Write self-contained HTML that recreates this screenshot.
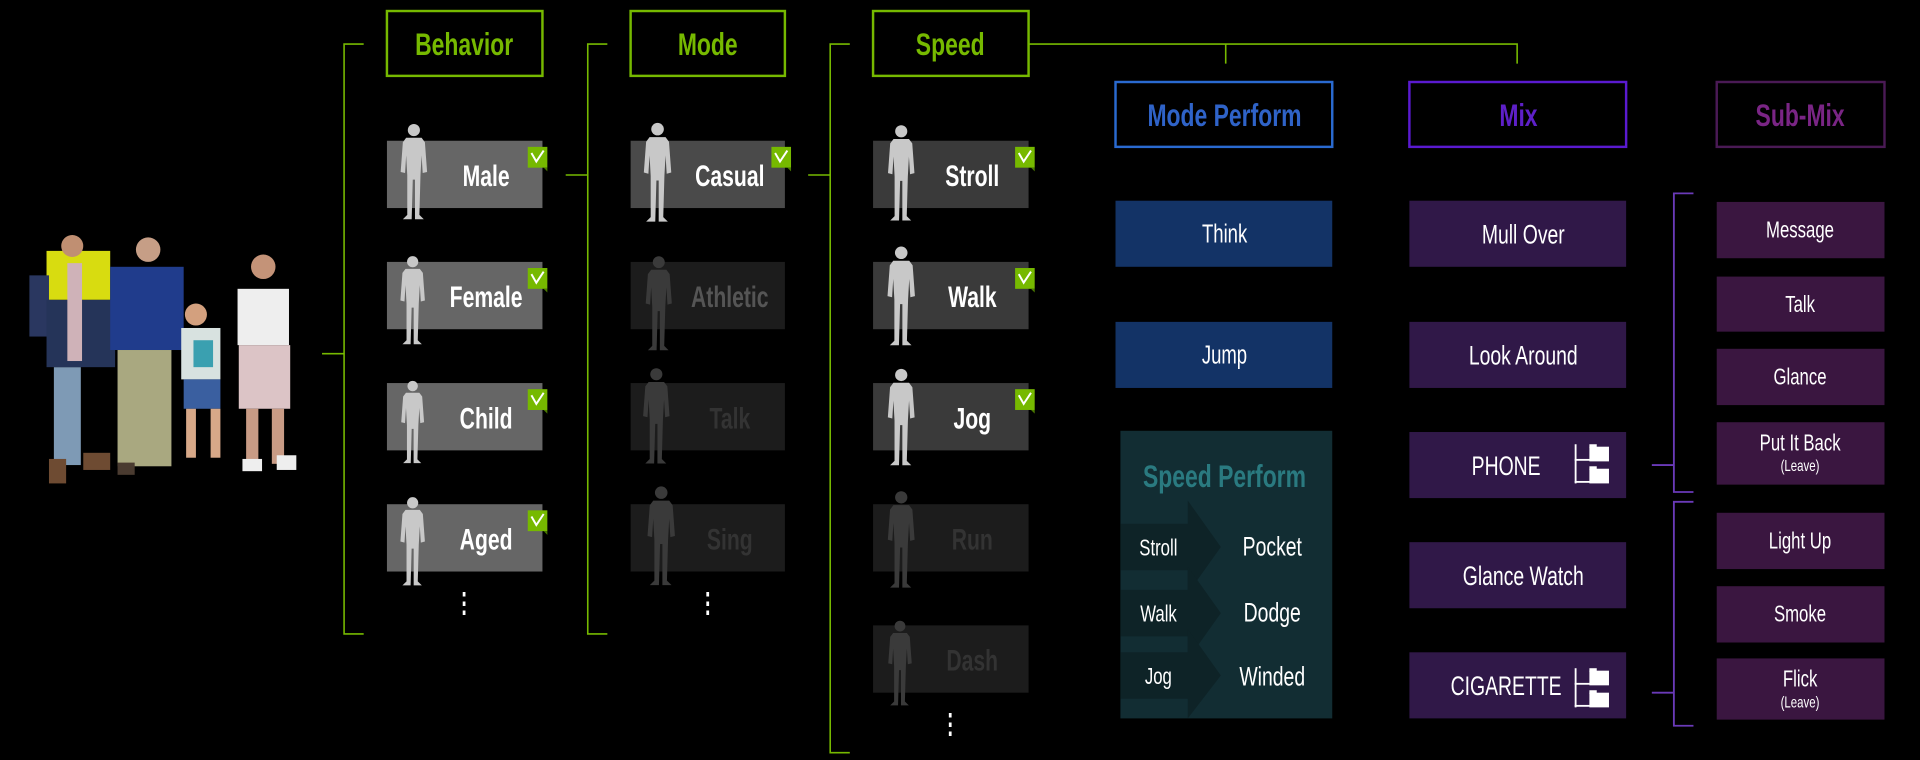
<!DOCTYPE html>
<html><head><meta charset="utf-8"><style>
html,body{margin:0;padding:0;background:#000;width:1920px;height:760px;overflow:hidden}
svg{display:block}
text{font-family:"Liberation Sans Narrow","Liberation Sans",sans-serif;transform-box:fill-box;transform-origin:center;transform:scaleX(0.72)}
</style></head><body>
<svg width="1920" height="760" viewBox="0 0 1568 621" preserveAspectRatio="none" xmlns="http://www.w3.org/2000/svg">
<defs>
<symbol id="fig" viewBox="0 0 40 90" overflow="visible">
<circle cx="20" cy="7" r="5.5"/>
<path d="M13 14 L27 14 L30 18 L32 45 L28 46 L27 30 L26 48 L25 84 L29 88 L21 88 L21 52 L19 52 L18 88 L10 88 L14 84 L14 48 L13 30 L12 46 L8 45 L10 18 Z"/>
</symbol>
<g id="chk"><rect x="0" y="0" width="16" height="17" fill="#76b900"/><path d="M3 5 L7 12 L13 3" fill="none" stroke="#fff" stroke-width="1.6"/><path d="M16 17 L16 20 L13 17Z" fill="#4a7a00"/></g>
<g id="ico" fill="#fff"><rect x="0" y="0" width="1.5" height="32"/><rect x="0" y="12" width="13" height="1.5"/><rect x="0" y="30" width="13" height="1.5"/><rect x="12" y="2" width="16" height="12"/><rect x="12" y="20" width="16" height="12"/><rect x="12" y="0" width="6" height="3"/><rect x="12" y="18" width="6" height="3"/></g>
</defs>

<g>
<rect x="44" y="300" width="22" height="80" fill="#7e9ab5"/>
<rect x="38" y="205" width="52" height="40" fill="#d8dc10"/>
<rect x="24" y="225" width="16" height="50" fill="#2a3760"/>
<rect x="38" y="245" width="56" height="55" fill="#253459"/>
<rect x="55" y="215" width="12" height="80" fill="#cfb2b8"/>
<circle cx="59" cy="201" r="9" fill="#c08f72"/>
<rect x="40" y="375" width="14" height="20" fill="#6e4b32"/>
<rect x="68" y="370" width="22" height="14" fill="#6e4b32"/>
<rect x="90" y="218" width="60" height="68" fill="#203c8c"/>
<rect x="96" y="286" width="44" height="95" fill="#a9a880"/>
<circle cx="121" cy="204" r="10" fill="#c69e86"/>
<rect x="96" y="378" width="14" height="10" fill="#4a3b30"/>
<rect x="148" y="268" width="32" height="42" fill="#d8e2e0"/>
<rect x="158" y="278" width="16" height="22" fill="#3aa0b0"/>
<rect x="150" y="310" width="30" height="24" fill="#3a5fa0"/>
<rect x="152" y="334" width="8" height="40" fill="#d7a888"/><rect x="172" y="334" width="8" height="40" fill="#d7a888"/>
<circle cx="160" cy="257" r="9" fill="#d3a07e"/>
<rect x="194" y="236" width="42" height="46" fill="#eeeeee"/>
<rect x="195" y="282" width="42" height="52" fill="#dcc4c6"/>
<rect x="201" y="334" width="10" height="45" fill="#c89b85"/><rect x="222" y="334" width="10" height="45" fill="#c89b85"/>
<rect x="198" y="375" width="16" height="10" fill="#eee"/><rect x="226" y="372" width="16" height="12" fill="#eee"/>
<circle cx="215" cy="218" r="10" fill="#c49378"/>
</g>

<g stroke="#76b900" stroke-width="1.3" fill="none">
<path d="M297 36 H281 V518 H297 M263 289 H281"/>
<path d="M496 36 H480 V518 H496 M462 143 H480"/>
<path d="M694 36 H678 V615 H694 M660 143 H678"/>
<path d="M840 36 H1239 V52 M1001 36 V52"/>
</g>

<g fill="none" stroke-width="2">
<rect x="316" y="9" width="127" height="53" stroke="#76b900"/>
<rect x="515" y="9" width="126" height="53" stroke="#76b900"/>
<rect x="713" y="9" width="127" height="53" stroke="#76b900"/>
<rect x="911" y="67" width="177" height="53" stroke="#2a6ad0"/>
<rect x="1151" y="67" width="177" height="53" stroke="#5a1ad0"/>
<rect x="1402" y="67" width="137" height="53" stroke="#4a1a55"/>
</g>
<g font-weight="bold" font-size="26" text-anchor="middle">
<text x="379" y="45" fill="#76b900">Behavior</text>
<text x="578" y="45" fill="#76b900">Mode</text>
<text x="776" y="45" fill="#76b900">Speed</text>
<text x="1000" y="103" fill="#2f63c8">Mode Perform</text>
<text x="1240" y="103" fill="#5e20c8">Mix</text>
<text x="1470" y="103" fill="#7a2585">Sub-Mix</text>
</g>

<g fill="#666"><rect x="316" y="115" width="127" height="55"/><rect x="316" y="214" width="127" height="55"/><rect x="316" y="313" width="127" height="55"/><rect x="316" y="412" width="127" height="55"/></g>
<g fill="#4a4a4a"><rect x="515" y="115" width="126" height="55"/></g>
<g fill="#1c1c1c"><rect x="515" y="214" width="126" height="55"/><rect x="515" y="313" width="126" height="55"/><rect x="515" y="412" width="126" height="55"/><rect x="713" y="412" width="127" height="55"/><rect x="713" y="511" width="127" height="55"/></g>
<g fill="#3a3a3a"><rect x="713" y="115" width="127" height="55"/><rect x="713" y="214" width="127" height="55"/><rect x="713" y="313" width="127" height="55"/></g>

<g fill="#c8c8c8">
<use href="#fig" x="320" y="98" width="36" height="85"/>
<use href="#fig" x="320" y="208" width="34" height="75"/>
<use href="#fig" x="320" y="310" width="34" height="70"/>
<use href="#fig" x="318" y="405" width="38" height="75"/>
<use href="#fig" x="518" y="99" width="38" height="84"/>
<use href="#fig" x="718" y="100" width="36" height="83"/>
<use href="#fig" x="716" y="200" width="40" height="84"/>
<use href="#fig" x="716" y="300" width="40" height="82"/>
</g>
<g fill="#3a3a3a">
<use href="#fig" x="518" y="208" width="40" height="80"/>
<use href="#fig" x="518" y="298" width="36" height="84"/>
<use href="#fig" x="520" y="396" width="40" height="84"/>
<use href="#fig" x="716" y="400" width="40" height="82"/>
<use href="#fig" x="714" y="506" width="42" height="72"/>
</g>

<g font-weight="bold" font-size="24" text-anchor="middle" fill="#fff">
<text x="397" y="152">Male</text><text x="397" y="251">Female</text><text x="397" y="350">Child</text><text x="397" y="449">Aged</text>
<text x="596" y="152">Casual</text><text x="794" y="152">Stroll</text><text x="794" y="251">Walk</text><text x="794" y="350">Jog</text>
</g>
<g font-weight="bold" font-size="24" text-anchor="middle" fill="#555">
<text x="596" y="251">Athletic</text></g>
<g font-weight="bold" font-size="24" text-anchor="middle" fill="#333">
<text x="596" y="350">Talk</text><text x="596" y="449">Sing</text><text x="794" y="449">Run</text><text x="794" y="548">Dash</text></g>
<g font-size="22" fill="#fff" text-anchor="middle" font-weight="bold">
<text x="379" y="500">⋮</text><text x="578" y="500">⋮</text><text x="776" y="599">⋮</text></g>

<use href="#chk" x="431" y="120"/><use href="#chk" x="431" y="219"/><use href="#chk" x="431" y="318"/><use href="#chk" x="431" y="417"/>
<use href="#chk" x="630" y="120"/><use href="#chk" x="829" y="120"/><use href="#chk" x="829" y="219"/><use href="#chk" x="829" y="318"/>

<g fill="#133366"><rect x="911" y="164" width="177" height="54"/><rect x="911" y="263" width="177" height="54"/></g>
<rect x="915" y="352" width="173" height="235" fill="#122d33"/>
<text x="1000" y="398" font-weight="bold" font-size="26" fill="#2a7a80" text-anchor="middle">Speed Perform</text>
<g fill="#0e2327">
<path d="M915 428 H970 V409 L997 447 L970 485 V466 H915Z"/>
<path d="M915 482 H970 V463 L997 501 L970 539 V520 H915Z"/>
<path d="M915 533 H970 V514 L997 552 L970 587 V571 H915Z"/>
</g>
<g fill="#fff" font-size="21" text-anchor="middle">
<text x="1000" y="198">Think</text><text x="1000" y="297">Jump</text>
<text x="946" y="454" font-size="19">Stroll</text><text x="946" y="508" font-size="19">Walk</text><text x="946" y="559" font-size="19">Jog</text>
<text x="1039" y="454" font-size="22">Pocket</text><text x="1039" y="508" font-size="22">Dodge</text><text x="1039" y="560" font-size="22">Winded</text>
</g>

<g fill="#301848">
<rect x="1151" y="164" width="177" height="54"/><rect x="1151" y="263" width="177" height="54"/><rect x="1151" y="353" width="177" height="54"/><rect x="1151" y="443" width="177" height="54"/><rect x="1151" y="533" width="177" height="54"/></g>
<g fill="#fff" font-size="22" text-anchor="middle">
<text x="1244" y="199">Mull Over</text><text x="1244" y="298">Look Around</text><text x="1230" y="388">PHONE</text><text x="1244" y="478">Glance Watch</text><text x="1230" y="568">CIGARETTE</text>
</g>
<use href="#ico" x="1286" y="363"/><use href="#ico" x="1286" y="546"/>

<g fill="#3a1640">
<rect x="1402" y="165" width="137" height="46"/><rect x="1402" y="226" width="137" height="45"/><rect x="1402" y="285" width="137" height="46"/><rect x="1402" y="345" width="137" height="51"/><rect x="1402" y="419" width="137" height="46"/><rect x="1402" y="479" width="137" height="46"/><rect x="1402" y="538" width="137" height="50"/></g>
<g fill="#fff" font-size="19" text-anchor="middle">
<text x="1470" y="194">Message</text><text x="1470" y="255">Talk</text><text x="1470" y="314">Glance</text>
<text x="1470" y="368">Put It Back</text><text x="1470" y="385" font-size="13">(Leave)</text>
<text x="1470" y="448">Light Up</text><text x="1470" y="508">Smoke</text>
<text x="1470" y="561">Flick</text><text x="1470" y="578" font-size="13">(Leave)</text>
</g>
<g stroke="#6a3ab8" stroke-width="1.5" fill="none">
<path d="M1383 158 H1367 V402 H1383 M1349 380 H1367"/>
<path d="M1383 410 H1367 V593 H1383 M1349 566 H1367"/>
</g>
</svg>
</body></html>
